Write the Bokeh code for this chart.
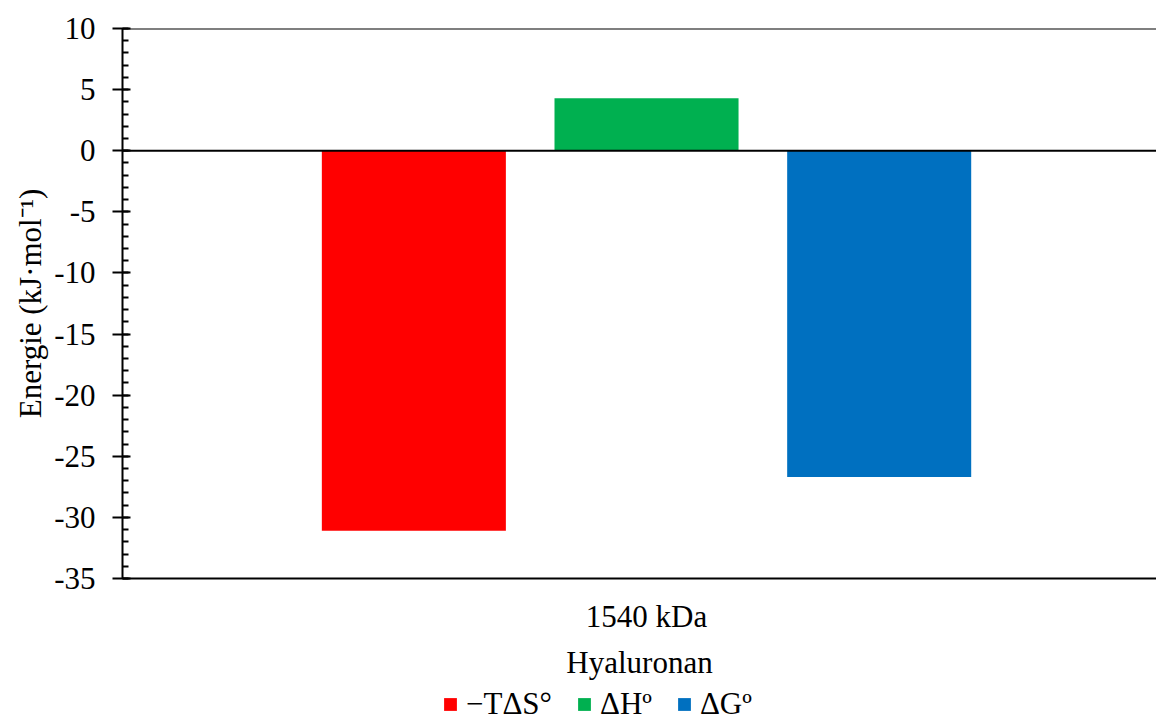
from bokeh.plotting import figure
from bokeh.layouts import column
from bokeh.models import (Range1d, FixedTicker, Span, Legend, LegendItem, ColumnDataSource)
from bokeh.embed import file_html
from bokeh.resources import INLINE

group = "1540 kDa"
series = ["−TΔS°", "ΔHº", "ΔGº"]
values = [-31.1, 4.3, -26.7]
colors = ["#FF0000", "#00B050", "#0070C0"]
y_ticks = [-35, -30, -25, -20, -15, -10, -5, 0, 5, 10]
y_minor = list(range(-35, 11))
offsets = [-0.222, 0.0, 0.222]   # dodge within the single category
bar_width = 0.1756

FONT = "Liberation Serif"
FS = "31px"

p = figure(width=1156, height=682, output_backend="svg", toolbar_location=None,
           x_range=Range1d(-0.5, 0.4866), y_range=Range1d(-35, 10),
           min_border_left=122, min_border_top=28, min_border_right=0,
           min_border_bottom=103)
p.outline_line_color = None
p.xgrid.visible = False
p.ygrid.visible = False
p.background_fill_color = "white"
p.border_fill_color = "white"

for name, val, col, off in zip(series, values, colors, offsets):
    src = ColumnDataSource(dict(x=[off], top=[val]))
    p.vbar(x="x", top="top", bottom=0, width=bar_width, source=src,
           fill_color=col, line_color=None)

# lines at top and at zero
p.add_layout(Span(location=10, dimension="width", line_color="black", line_width=2))
p.add_layout(Span(location=0, dimension="width", line_color="black", line_width=2))

# y axis
ya = p.yaxis[0]
ya.ticker = FixedTicker(ticks=y_ticks, minor_ticks=y_minor)
ya.major_label_overrides = {t: str(t) for t in y_ticks}
ya.axis_label = "Energie (kJ·mol⁻¹)"
ya.axis_label_text_font = FONT
ya.axis_label_text_font_size = FS
ya.axis_label_text_font_style = "normal"
ya.axis_label_text_color = "black"
ya.axis_label_standoff = 3
ya.major_label_text_font = FONT
ya.major_label_text_font_size = FS
ya.major_label_text_color = "black"
ya.major_label_standoff = 17
ya.axis_line_width = 2
ya.axis_line_color = "black"
ya.major_tick_in = 8
ya.major_tick_out = 10
ya.major_tick_line_width = 2
ya.major_tick_line_color = "black"
ya.minor_tick_in = 6
ya.minor_tick_out = 0
ya.minor_tick_line_width = 2
ya.minor_tick_line_color = "black"

# x axis
xa = p.xaxis[0]
xa.ticker = FixedTicker(ticks=[0])
xa.major_label_overrides = {0: group}
xa.axis_label = "Hyaluronan"
xa.axis_label_text_font = FONT
xa.axis_label_text_font_size = FS
xa.axis_label_text_font_style = "normal"
xa.axis_label_text_color = "black"
xa.axis_label_standoff = 8
xa.major_label_text_font = FONT
xa.major_label_text_font_size = FS
xa.major_label_text_color = "black"
xa.major_label_standoff = 20
xa.axis_line_width = 2
xa.axis_line_color = "black"
xa.major_tick_line_color = None
xa.minor_tick_line_color = None
xa.major_tick_out = 0
xa.major_tick_in = 0

# legend strip below the chart (its bars lie outside its visible range)
lg = figure(width=1156, height=40, output_backend="svg", toolbar_location=None,
            x_range=Range1d(-0.5, 0.4866), y_range=Range1d(100, 101),
            min_border_left=0, min_border_right=0, min_border_top=0,
            min_border_bottom=0)
lg.axis.visible = False
lg.xgrid.visible = False
lg.ygrid.visible = False
lg.outline_line_color = None
lg.background_fill_color = "white"
lg.border_fill_color = "white"

items = []
for name, val, col, off in zip(series, values, colors, offsets):
    src = ColumnDataSource(dict(x=[off], top=[val]))
    r = lg.vbar(x="x", top="top", bottom=0, width=bar_width, source=src,
                fill_color=col, line_color=None)
    items.append(LegendItem(label=name, renderers=[r]))

legend = Legend(items=items, orientation="horizontal", location=(320, 0),
                padding=0, margin=0, spacing=24, label_standoff=8,
                glyph_width=16, glyph_height=16,
                label_text_font=FONT, label_text_font_size=FS,
                label_text_color="black",
                border_line_color=None, background_fill_alpha=0)
lg.add_layout(legend, "center")

layout = column(p, lg, spacing=0)
open("out.html", "w").write(file_html(layout, INLINE))
